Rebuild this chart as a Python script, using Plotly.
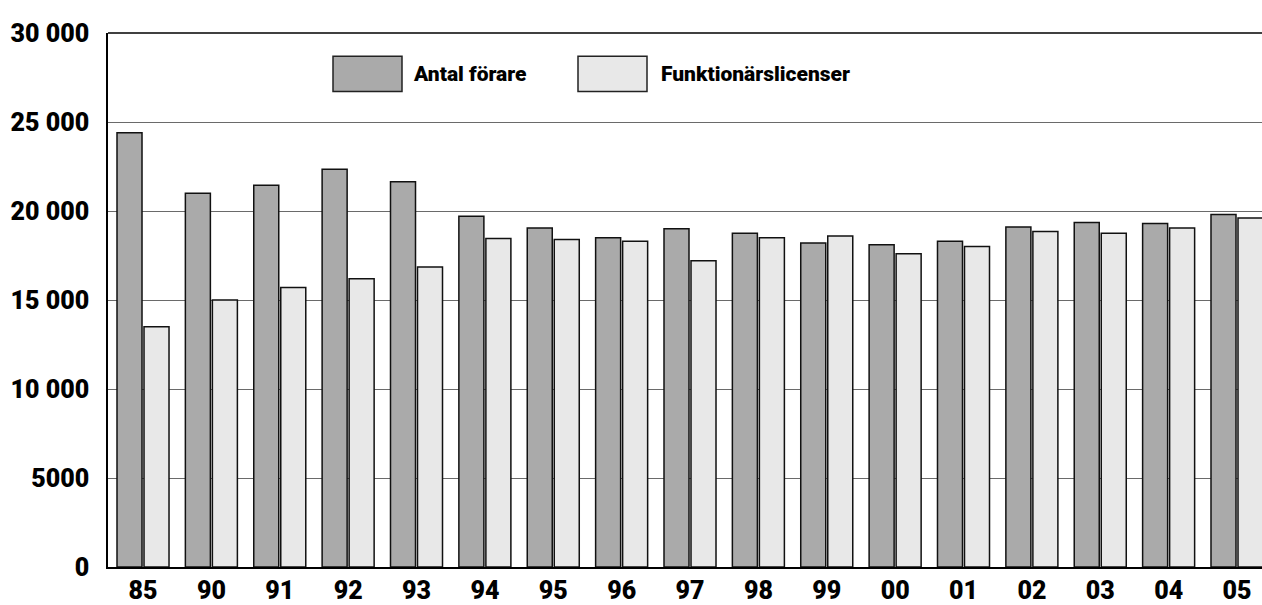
import plotly.graph_objects as go

years = ["85", "90", "91", "92", "93", "94", "95", "96", "97", "98", "99",
         "00", "01", "02", "03", "04", "05"]
forare = [24400, 21000, 21450, 22350, 21650, 19700, 19050, 18500, 19000, 18750,
          18200, 18100, 18300, 19100, 19350, 19300, 19800]
licenser = [13500, 15000, 15700, 16200, 16850, 18450, 18400, 18300, 17200, 18500,
            18600, 17600, 18000, 18850, 18750, 19050, 19600]
series_names = ["Antal förare", "Funktionärslicenser"]
ytick_vals = [0, 5000, 10000, 15000, 20000, 25000, 30000]
ytick_text = ["0", "5000", "10 000", "15 000", "20 000", "25 000", "30 000"]

FAM = "Roboto, Liberation Sans, sans-serif"
DARK = "#aaaaaa"
LIGHT = "#e8e8e8"

def f(size):
    return dict(family=FAM, size=size, color="#000000", weight=900)

fig = go.Figure()
fig.add_bar(x=years, y=forare, name=series_names[0], marker_color=DARK,
            marker_line_color="#111111", marker_line_width=1.5, showlegend=False)
fig.add_bar(x=years, y=licenser, name=series_names[1], marker_color=LIGHT,
            marker_line_color="#111111", marker_line_width=1.5, showlegend=False)

W, H = 1262, 605
L, R, T, B = 108, 0, 32.5, 38.3
pw, ph = W - L - R, H - T - B

def px(x):
    return (x - L) / pw

def py(y):
    return (H - B - y) / ph

shapes = [
    dict(type="line", xref="paper", yref="paper", x0=0, x1=1, y0=1, y1=1,
         line=dict(color="#000000", width=1.5)),
    dict(type="rect", xref="paper", yref="paper", x0=px(333), x1=px(402),
         y0=py(91), y1=py(55.7), fillcolor=DARK, line=dict(color="#222222", width=1.5)),
    dict(type="rect", xref="paper", yref="paper", x0=px(578), x1=px(647),
         y0=py(91), y1=py(55.7), fillcolor=LIGHT, line=dict(color="#222222", width=1.5)),
]
annotations = [
    dict(xref="paper", yref="paper", x=px(411), y=py(74), text=series_names[0],
         showarrow=False, xanchor="left", yanchor="middle", font=f(21)),
    dict(xref="paper", yref="paper", x=px(659), y=py(74), text=series_names[1],
         showarrow=False, xanchor="left", yanchor="middle", font=f(21)),
]

n = len(years)
fig.update_layout(
    width=W, height=H,
    margin=dict(l=L, r=R, t=T, b=B, pad=0),
    plot_bgcolor="#ffffff", paper_bgcolor="#ffffff",
    barmode="group", bargap=0.21, bargroupgap=0.074,
    shapes=shapes, annotations=annotations,
    font=f(25),
    xaxis=dict(
        range=[-0.512, (n - 1) + (1262 - 1237) / 68.375],
        showgrid=False, showline=True, linecolor="#000000", linewidth=2,
        ticks="", tickfont=f(25), automargin=False,
    ),
    yaxis=dict(
        range=[0, 30000],
        tickvals=ytick_vals, ticktext=ytick_text,
        showgrid=True, gridcolor="#6a6a6a", gridwidth=1.2,
        showline=True, linecolor="#000000", linewidth=1.5,
        zeroline=False, ticks="outside", ticklen=12, tickcolor="rgba(0,0,0,0)",
        tickfont=f(25), automargin=False,
    ),
)

fig.write_html(
    "out.html",
    config={"displayModeBar": False},
    post_script="document.body.style.margin='0';document.body.style.overflow='hidden';",
)
